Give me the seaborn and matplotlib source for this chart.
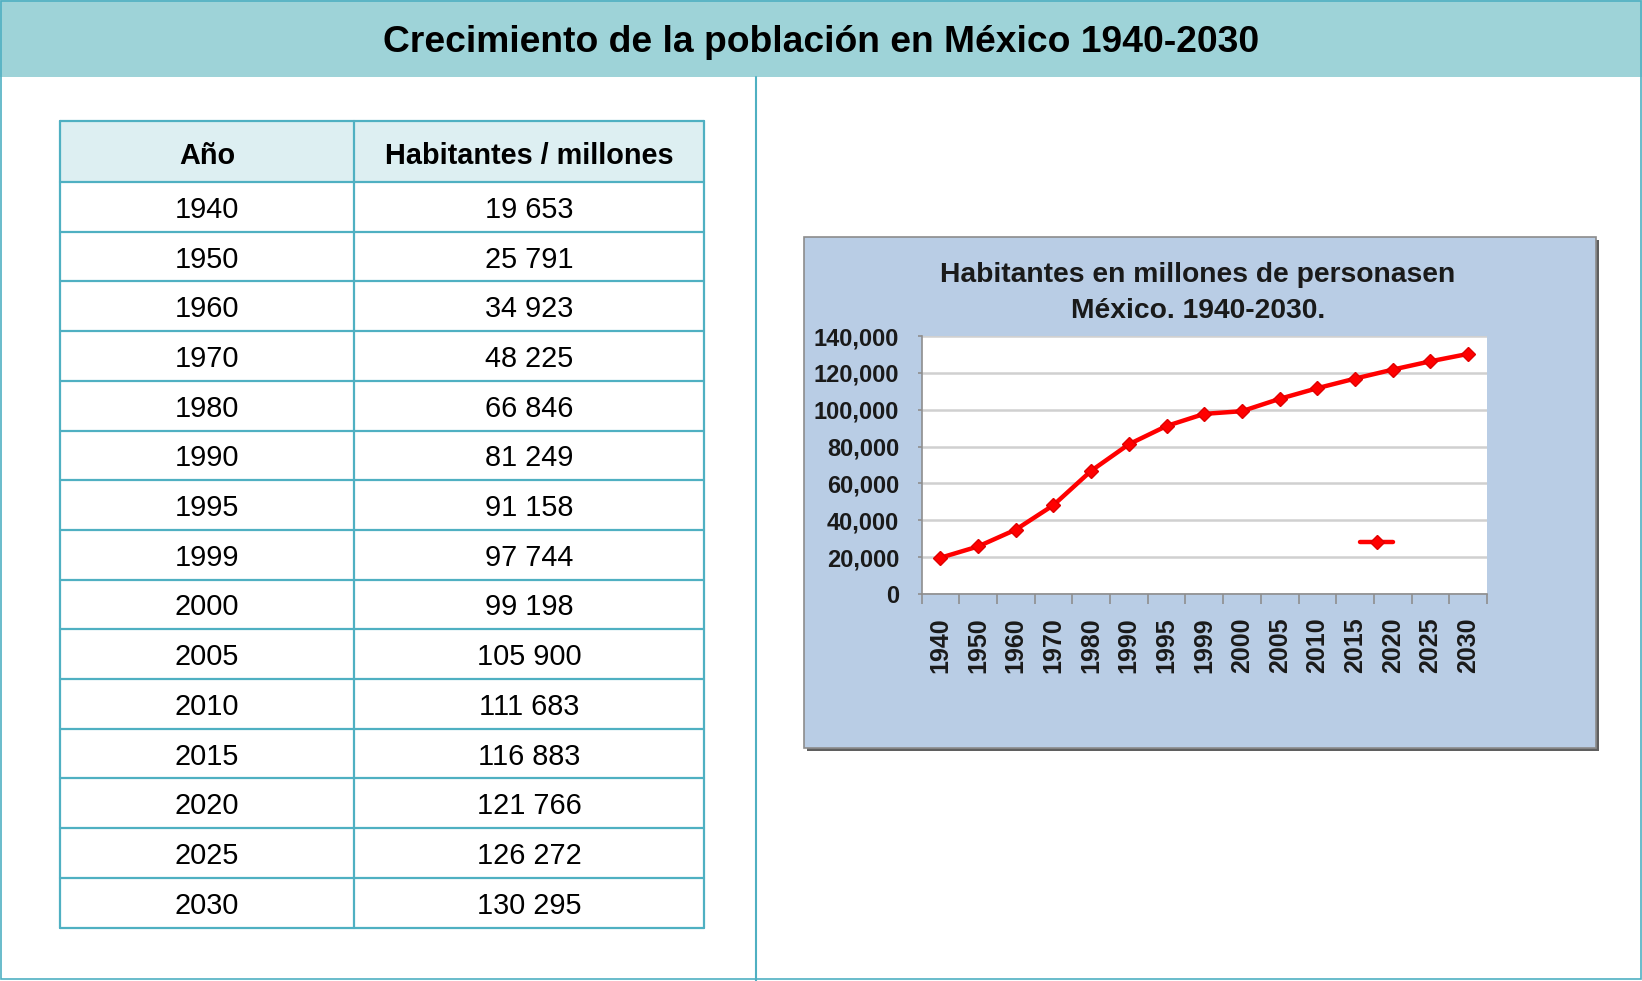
import numpy as np
import pandas as pd
import matplotlib
matplotlib.use("Agg")
import matplotlib.pyplot as plt
import seaborn as sns
from matplotlib.patches import Rectangle
from matplotlib.lines import Line2D
from matplotlib.ticker import MultipleLocator, FuncFormatter

# ---------------- data ----------------
main_title = "Crecimiento de la población en México 1940-2030"
table_headers = ["Año", "Habitantes / millones"]
years = ["1940", "1950", "1960", "1970", "1980", "1990", "1995", "1999",
         "2000", "2005", "2010", "2015", "2020", "2025", "2030"]
habitantes = [19653, 25791, 34923, 48225, 66846, 81249, 91158, 97744,
              99198, 105900, 111683, 116883, 121766, 126272, 130295]
chart_title = "Habitantes en millones de personasen\nMéxico. 1940-2030."

# ---------------- style ----------------
sns.set_theme(style="white")
plt.rcParams["font.family"] = ["Liberation Sans", "DejaVu Sans"]
chart_font = ["Liberation Sans Narrow", "Liberation Sans", "DejaVu Sans"]

W, H = 1642, 981
fig = plt.figure(figsize=(W / 100, H / 100), dpi=100)
bg = fig.add_axes([0, 0, 1, 1])
bg.set_xlim(0, W)
bg.set_ylim(H, 0)
bg.axis("off")

teal = "#4FB0C2"
# header band
bg.add_patch(Rectangle((0, 0), W, 77, fc="#9ED3D8", ec="none"))
bg.text(821, 42, main_title, ha="center", va="center", fontsize=26.8,
        fontweight="bold", color="black")
# outer border and divider
bg.add_patch(Rectangle((1, 1), W - 2, H - 3, fc="none", ec=teal, lw=1.2))
bg.plot([756, 756], [77, H], color=teal, lw=1.5)

# ---------------- table ----------------
tx0, tx1, tx2 = 60, 354, 704
ty0, ty1 = 121, 182
row_h = 49.7
n = len(years)
bg.add_patch(Rectangle((tx0, ty0), tx2 - tx0, ty1 - ty0, fc="#DDEFF2", ec="none"))
for k in range(n + 1):
    y = ty1 + k * row_h
    bg.plot([tx0, tx2], [y, y], color=teal, lw=1.6)
bg.plot([tx0, tx2], [ty0, ty0], color=teal, lw=1.6)
y_bottom = ty1 + n * row_h
for x in (tx0, tx1, tx2):
    bg.plot([x, x], [ty0, y_bottom], color=teal, lw=1.6)
c1, c2 = (tx0 + tx1) / 2, (tx1 + tx2) / 2
fs_tab = 20.8
bg.text(c1, (ty0 + ty1) / 2 + 4, table_headers[0], ha="center", va="center",
        fontsize=fs_tab, fontweight="bold", color="black")
bg.text(c2, (ty0 + ty1) / 2 + 4, table_headers[1], ha="center", va="center",
        fontsize=fs_tab, fontweight="bold", color="black")
for i, (yr, val) in enumerate(zip(years, habitantes)):
    yc = ty1 + (i + 0.5) * row_h + 3
    bg.text(c1, yc, yr, ha="center", va="center", fontsize=fs_tab, color="black")
    bg.text(c2, yc, f"{val:,}".replace(",", " "), ha="center", va="center",
            fontsize=fs_tab, color="black")

# ---------------- chart box ----------------
bx, by, bw, bh = 804, 237, 792, 511
bg.add_patch(Rectangle((bx + 3, by + 3), bw, bh, fc="#5F5F5F", ec="none"))
bg.add_patch(Rectangle((bx, by), bw, bh, fc="#B9CDE5", ec="#8C8C8C", lw=1.2))
bg.text(1198, 293, chart_title, ha="center", va="center", fontsize=20.3,
        fontweight="bold", color="#1A1A1A", linespacing=1.5, family=chart_font)

# ---------------- line chart ----------------
px0, px1, py0, py1 = 921.5, 1487, 336, 594
ax = fig.add_axes([px0 / W, 1 - py1 / H, (px1 - px0) / W, (py1 - py0) / H])
ax.set_facecolor("white")
df = pd.DataFrame({"Año": years, "Habitantes": habitantes})
sns.lineplot(data=df, x="Año", y="Habitantes", sort=False, color="#FF0000",
             lw=3.2, marker="D", markersize=7, markeredgecolor="#E00000",
             markeredgewidth=1, ax=ax, legend=False)
ax.set_xlim(-0.5, n - 0.5)
ax.set_ylim(0, 140000)
ax.yaxis.set_major_locator(MultipleLocator(20000))
ax.yaxis.set_major_formatter(FuncFormatter(lambda v, p: f"{int(v):,}"))
ax.yaxis.grid(True, color="#D0D0D0", lw=1.8)
ax.xaxis.grid(False)
ax.set_axisbelow(True)
ax.set_xlabel("")
ax.set_ylabel("")
for s in ("top", "right"):
    ax.spines[s].set_visible(False)
for s in ("left", "bottom"):
    ax.spines[s].set_color("#8E8E8E")
    ax.spines[s].set_linewidth(1.2)
ax.set_xticks(np.arange(-0.5, n), minor=True)
ax.tick_params(axis="x", which="major", length=0, pad=17, labelrotation=90)
ax.tick_params(axis="x", which="minor", length=7, width=1.2, color="#8E8E8E",
               direction="out", bottom=True)
ax.tick_params(axis="y", which="major", length=3, width=1.2, color="#8E8E8E",
               direction="out", left=True, pad=13)
for lab in ax.get_xticklabels():
    lab.set_family(chart_font)
    lab.set_fontweight("bold")
    lab.set_fontsize(18)
    lab.set_color("#1A1A1A")
    lab.set_va("top")
for lab in ax.get_yticklabels():
    lab.set_family(chart_font)
    lab.set_fontweight("bold")
    lab.set_fontsize(17)
    lab.set_color("#1A1A1A")

handle = Line2D([], [], color="#FF0000", lw=3.2, marker="D", markersize=7,
                markeredgecolor="#E00000")
ax.legend(handles=[handle], labels=[""], frameon=False, loc="center",
          bbox_to_anchor=(0.805, 0.20), handlelength=2.4, handletextpad=0,
          borderpad=0, fontsize=10)

fig.savefig("out.png", dpi=100)
